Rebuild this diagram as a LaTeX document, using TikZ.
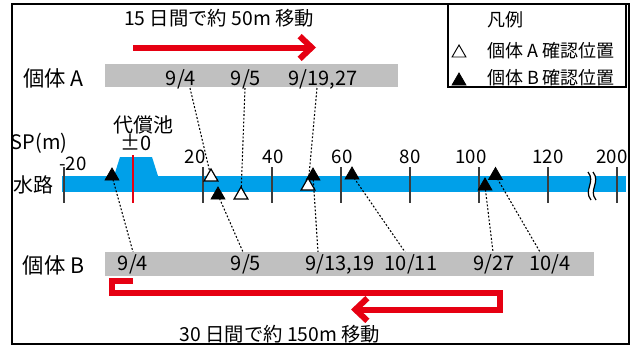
\documentclass[tikz,border=0pt]{standalone}
\usepackage{fontspec}
\newfontfamily\jp{Noto Sans CJK JP}
\usetikzlibrary{shapes.geometric,arrows.meta}
\definecolor{wblue}{RGB}{0,160,233}
\definecolor{mred}{RGB}{230,0,18}
\definecolor{bargray}{RGB}{192,192,192}
\definecolor{tickgray}{RGB}{60,60,60}
\pgfdeclarelayer{bg}\pgfdeclarelayer{mid}\pgfsetlayers{bg,mid,main}
\newcommand\myfs[1]{\fontsize{#1}{#1}\selectfont}
\begin{document}
\begin{tikzpicture}[x=0.75pt,y=-0.75pt,
  every node/.style={inner sep=0pt,outer sep=0pt},
  biglab/.style={font=\jp\myfs{16}},
  midlab/.style={font=\jp\myfs{15}},
  txt/.style={font=\jp\myfs{14.5}},
  dlab/.style={font=\jp\myfs{15}},
  ticklab/.style={font=\jp\myfs{14}},
  leglab/.style={font=\jp\myfs{13.5},anchor=west},
  triA/.style={regular polygon,regular polygon sides=3,minimum size=12pt,draw=black,fill=white,line width=0.9pt},
  triB/.style={regular polygon,regular polygon sides=3,minimum size=12pt,draw=black,fill=black,line width=0.6pt},
  leader/.style={draw=black,line width=0.8pt,dash pattern=on 1.4pt off 1.4pt},
  redarrow/.style={draw=mred,line width=4.5pt,line join=miter,-{Straight Barb[length=9pt,width=17pt]}},
  tickline/.style={draw=tickgray,line width=1.2pt}]
\useasboundingbox (0,0) rectangle (641,347);
% frame and legend
\draw[line width=1.2pt] (12,4) rectangle (629,344);
\draw[line width=0.8pt] (448,4) rectangle (626,87);
\node[leglab] (legT) at (487,20) {凡例};
\node[triA,line width=0.7pt] (legA) at (459,53) {};
\node[leglab] (legAt) at (487,51) {個体 A 確認位置};
\node[triB] (legB) at (459,81) {};
\node[leglab] (legBt) at (487,78) {個体 B 確認位置};
% top arrow
\node[txt] (t15) at (219,18) {15 日間で約 50m 移動};
\coordinate (ta0) at (133,47.5);
\coordinate (ta1) at (316,47.5);
\draw[redarrow] (ta0) -- (ta1);
% bar A
\node[biglab] (idA) at (53.5,78) {個体 A};
\fill[bargray] (105,64) rectangle (398,87);
\node[dlab] (a94) at (181,79) {9/4};
\node[dlab] (a95) at (246,79) {9/5};
\node[dlab] (a919) at (323,79) {9/19,27};
\coordinate (la1) at (190,88);
\coordinate (la2) at (245,88);
\coordinate (la3) at (317,88);
% waterway
\begin{pgfonlayer}{bg}
\fill[wblue] (62,176) rectangle (626,192);
\fill[wblue] (114,176) -- (120,157) -- (152,157) -- (158,176) -- cycle;
\foreach \xx in {64,203,272,341,410,479,548,617}
  \draw[tickline] (\xx,167) -- (\xx,203);
\draw[mred,line width=2pt] (133,155) -- (133,203);
\fill[white] (588,172) .. controls (596,182) and (583,190) .. (591,200) -- (596,200) .. controls (588,190) and (601,182) .. (593,172) -- cycle;
\draw[line width=0.9pt] (588,172) .. controls (596,182) and (583,190) .. (591,200);
\draw[line width=0.9pt] (593,172) .. controls (601,182) and (588,190) .. (596,200);
\end{pgfonlayer}
\node[midlab] (sp) at (39,143) {SP(m)};
\node[midlab] (suiro) at (33,185) {水路};
\node[midlab] (daisho) at (143,125) {代償池};
\node[midlab] (pm0) at (136,143) {±0};
\node[ticklab] (tm20) at (73,164) {-20};
\node[ticklab] (t20) at (195,157) {20};
\node[ticklab] (t40) at (273,157) {40};
\node[ticklab] (t60) at (342,157) {60};
\node[ticklab] (t80) at (410,157) {80};
\node[ticklab] (t100) at (471,157) {100};
\node[ticklab] (t120) at (548,157) {120};
\node[ticklab] (t200) at (612,157) {200};
% markers
\node[triB] (B1) at (112,176) {};
\node[triB] (B2) at (218,195) {};
\node[triB] (B3) at (313,176) {};
\node[triB] (B4) at (352,175) {};
\node[triB] (B6) at (495.5,175.5) {};
\node[triB] (B5) at (485,186) {};
\node[triA] (A1) at (211,177) {};
\node[triA] (A2) at (241,195) {};
\node[triA] (A3) at (308,186) {};
% bar B
\node[biglab] (idB) at (53.5,265) {個体 B};
\fill[bargray] (105,252) rectangle (594,276);
\node[dlab] (b94) at (133,264) {9/4};
\node[dlab] (b95) at (246,264) {9/5};
\node[dlab] (b913) at (340,264) {9/13,19};
\node[dlab] (b1011) at (411,264) {10/11};
\node[dlab] (b927) at (494,264) {9/27};
\node[dlab] (b104) at (550,264) {10/4};
\coordinate (lb1) at (133,252);
\coordinate (lb2) at (243,252);
\coordinate (lb3) at (318,252);
\coordinate (lb4) at (405,252);
\coordinate (lb5) at (493,252);
\coordinate (lb6) at (540,252);
% leaders
\begin{pgfonlayer}{mid}
\draw[leader] (la1) -- (A1.center);
\draw[leader] (la2) -- (A2.center);
\draw[leader] (la3) -- (A3.center);
\draw[leader] (B1.center) -- (lb1);
\draw[leader] (B2.center) -- (lb2);
\draw[leader] (B3.center) -- (lb3);
\draw[leader] (B4.center) -- (lb4);
\draw[leader] (B5.center) -- (lb5);
\draw[leader] (B6.center) -- (lb6);
\end{pgfonlayer}
% bottom arrow
\coordinate (ba0) at (133,280.5);
\coordinate (ba1) at (111.5,280.5);
\coordinate (ba2) at (111.5,292.5);
\coordinate (ba3) at (499.5,292.5);
\coordinate (ba4) at (499.5,309.5);
\coordinate (ba5) at (351,309.5);
\draw[redarrow] (ba0) -- (ba1) -- (ba2) -- (ba3) -- (ba4) -- (ba5);
\node[txt] (t30) at (280,334) {30 日間で約 150m 移動};
\end{tikzpicture}
\end{document}
